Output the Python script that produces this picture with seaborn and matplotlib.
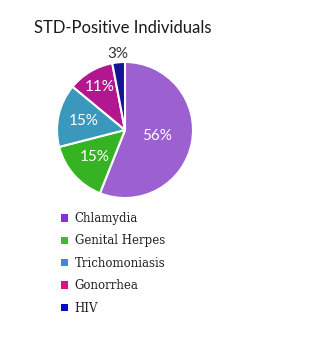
import matplotlib
matplotlib.use("Agg")
import matplotlib.pyplot as plt
import seaborn as sns
from matplotlib.patches import Patch
import numpy as np

categories = ["Chlamydia", "Genital Herpes", "Trichomoniasis", "Gonorrhea", "HIV"]
values = [56, 15, 15, 11, 3]
pct_labels = ["56%", "15%", "15%", "11%", "3%"]

pie_colors = ["#9c60d0", "#35b322", "#3a98bd", "#b3178f", "#141495"]
legend_colors = ["#8a2be8", "#33c322", "#3b86e6", "#d3137f", "#0a0ac8"]
label_r = [0.48, 0.6, 0.62, 0.74, 1.12]
label_colors = ["white", "white", "white", "white", "#333333"]

sns.set_theme(style="white")
plt.rcParams['font.family'] = ['Lato', 'DejaVu Sans']

fig = plt.figure(figsize=(3.28, 3.5), dpi=100)
fig.patch.set_facecolor("white")

cx, cy, R = 125, 130, 68
W, H = 328, 350
ax = fig.add_axes([(cx - R) / W, (H - cy - R) / H, 2 * R / W, 2 * R / H])

wedges, _ = ax.pie(values, colors=pie_colors, startangle=90, counterclock=False,
                   wedgeprops=dict(edgecolor="white", linewidth=1.5))
ax.set_xlim(-1, 1)
ax.set_ylim(-1, 1)
ax.set_aspect("equal")

for w, lab, r, c in zip(wedges, pct_labels, label_r, label_colors):
    ang = np.deg2rad((w.theta1 + w.theta2) / 2)
    ax.text(r * np.cos(ang), r * np.sin(ang), lab, ha="center", va="center",
            fontsize=11, color=c, family=['Lato', 'DejaVu Sans'])

fig.text(34 / W, 1 - 28 / H, "STD-Positive Individuals", ha="left", va="center",
         fontsize=12, color="#1a1a1a", family=['Lato', 'DejaVu Sans'])

handles = [Patch(facecolor=c, edgecolor="none") for c in legend_colors]
leg = fig.legend(handles, categories, loc="upper left",
                 bbox_to_anchor=(61 / W, 1 - 212 / H), frameon=False,
                 prop=dict(family=['DejaVu Serif'], size=8.5),
                 handlelength=0.6, handleheight=0.6, handletextpad=0.55,
                 labelspacing=0.8, borderaxespad=0, borderpad=0)
for t in leg.get_texts():
    t.set_color("#222222")

fig.savefig("out.png", dpi=100, facecolor="white")
